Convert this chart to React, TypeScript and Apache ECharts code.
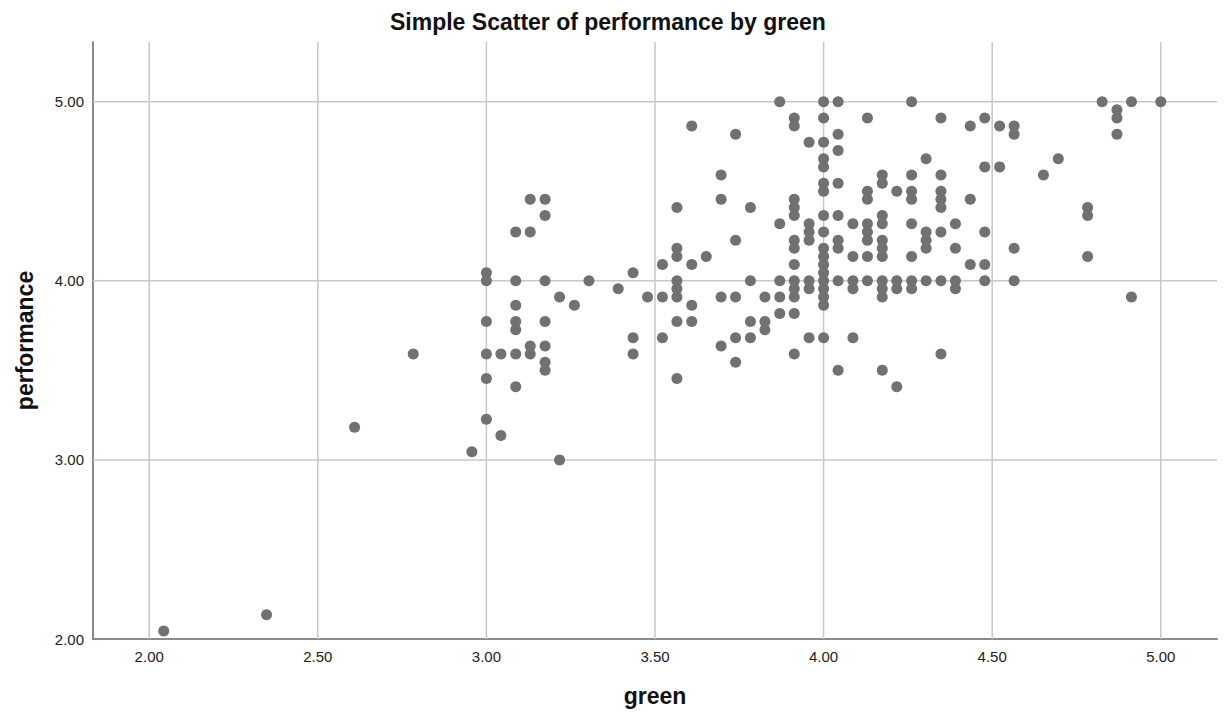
import React, { useEffect, useRef } from "react";
import * as echarts from "echarts";

// green score levels (x) and the performance scores observed at each level (y)
const greenLevels: number[] = [
  2.043, 2.348, 2.609, 2.783, 2.957, 3.0, 3.043, 3.087, 3.13, 3.174, 3.217, 3.261, 3.304,
  3.391, 3.435, 3.478, 3.522, 3.565, 3.609, 3.652, 3.696, 3.739, 3.783, 3.826, 3.87, 3.913,
  3.957, 4.0, 4.043, 4.087, 4.13, 4.174, 4.217, 4.261, 4.304, 4.348, 4.391, 4.435, 4.478,
  4.522, 4.565, 4.652, 4.696, 4.783, 4.826, 4.87, 4.913, 5.0,
];

const performanceByGreen: number[][] = [
  [2.045],
  [2.136],
  [3.182],
  [3.591],
  [3.045],
  [4.045, 4.0, 3.773, 3.591, 3.455, 3.227],
  [3.591, 3.136],
  [4.273, 4.0, 3.864, 3.773, 3.727, 3.591, 3.409],
  [4.455, 4.273, 3.636, 3.591],
  [4.455, 4.364, 4.0, 3.773, 3.636, 3.545, 3.5],
  [3.909, 3.0],
  [3.864],
  [4.0],
  [3.955],
  [4.045, 3.682, 3.591],
  [3.909],
  [4.091, 3.909, 3.682],
  [4.409, 4.182, 4.136, 4.0, 3.955, 3.909, 3.773, 3.455],
  [4.864, 4.091, 3.864, 3.773],
  [4.136],
  [4.591, 4.455, 3.909, 3.636],
  [4.818, 4.227, 3.909, 3.682, 3.545],
  [4.409, 4.0, 3.773, 3.682],
  [3.909, 3.773, 3.727],
  [5.0, 4.318, 4.0, 3.909, 3.818],
  [4.909, 4.864, 4.455, 4.409, 4.364, 4.227, 4.182, 4.091, 4.0, 3.955, 3.909, 3.818, 3.591],
  [4.773, 4.318, 4.273, 4.227, 4.0, 3.955, 3.682],
  [5.0, 4.909, 4.773, 4.682, 4.636, 4.545, 4.5, 4.364, 4.273, 4.182, 4.136, 4.091, 4.045, 4.0, 3.955, 3.909, 3.864, 3.682],
  [5.0, 4.818, 4.727, 4.545, 4.364, 4.227, 4.182, 4.0, 3.5],
  [4.318, 4.136, 4.0, 3.955, 3.682],
  [4.909, 4.5, 4.455, 4.318, 4.273, 4.227, 4.136, 4.0],
  [4.591, 4.545, 4.364, 4.318, 4.227, 4.182, 4.136, 4.0, 3.955, 3.909, 3.5],
  [4.5, 4.0, 3.955, 3.409],
  [5.0, 4.591, 4.5, 4.455, 4.318, 4.136, 4.0, 3.955],
  [4.682, 4.273, 4.227, 4.182, 4.0],
  [4.909, 4.591, 4.5, 4.455, 4.409, 4.273, 4.0, 3.591],
  [4.318, 4.182, 4.0, 3.955],
  [4.864, 4.455, 4.091],
  [4.909, 4.636, 4.273, 4.091, 4.0],
  [4.864, 4.636],
  [4.864, 4.818, 4.182, 4.0],
  [4.591],
  [4.682],
  [4.409, 4.364, 4.136],
  [5.0],
  [4.955, 4.909, 4.818],
  [5.0, 3.909],
  [5.0],
];

const xTicks: number[] = [2.0, 2.5, 3.0, 3.5, 4.0, 4.5, 5.0];
const yTicks: number[] = [2.0, 3.0, 4.0, 5.0];
const xRange: number[] = [1.8333, 5.1667];
const yRange: number[] = [2.0, 5.3333];

const FONT = "'Liberation Sans', Arial, sans-serif";

export default function App() {
  const ref = useRef<HTMLDivElement>(null);

  useEffect(() => {
    if (!ref.current) return;
    const chart = echarts.init(ref.current, null, { renderer: "svg" });

    const points = greenLevels.flatMap((g, i) =>
      performanceByGreen[i].map((p) => [g, p])
    );

    const gridStyle = { color: "#c8c8c8", width: 1.5 };
    const gridSeries: any[] = [
      ...xTicks.map((v) => ({
        type: "line",
        data: [
          [v, yRange[0]],
          [v, yRange[1]],
        ],
        symbol: "none",
        silent: true,
        z: 1,
        lineStyle: gridStyle,
      })),
      ...yTicks
        .filter((v) => v > yRange[0])
        .map((v) => ({
          type: "line",
          data: [
            [xRange[0], v],
            [xRange[1], v],
          ],
          symbol: "none",
          silent: true,
          z: 1,
          lineStyle: gridStyle,
        })),
    ];

    chart.setOption({
      animation: false,
      backgroundColor: "#ffffff",
      title: {
        text: "Simple Scatter of performance by green",
        left: 390,
        top: 10,
        padding: 0,
        textStyle: {
          fontFamily: FONT,
          fontSize: 23,
          fontWeight: "bold",
          color: "#111111",
        },
      },
      grid: { left: 93, top: 42, right: 10, bottom: 73, containLabel: false },
      xAxis: {
        type: "value",
        min: xRange[0],
        max: xRange[1],
        name: "green",
        nameLocation: "middle",
        nameGap: 45,
        nameTextStyle: {
          fontFamily: FONT,
          fontSize: 23,
          fontWeight: "bold",
          color: "#111111",
        },
        axisLine: { show: true, onZero: false, lineStyle: { color: "#8a8a8a", width: 2 } },
        axisTick: { show: false },
        splitLine: { show: false },
        axisLabel: {
          customValues: xTicks,
          formatter: (v: number) => v.toFixed(2),
          fontFamily: FONT,
          fontSize: 15,
          color: "#222222",
          margin: 10,
        },
      },
      yAxis: {
        type: "value",
        min: yRange[0],
        max: yRange[1],
        name: "performance",
        nameLocation: "middle",
        nameRotate: 90,
        nameGap: 57,
        nameTextStyle: {
          fontFamily: FONT,
          fontSize: 23,
          fontWeight: "bold",
          color: "#111111",
        },
        axisLine: { show: true, onZero: false, lineStyle: { color: "#8a8a8a", width: 2 } },
        axisTick: { show: false },
        splitLine: { show: false },
        axisLabel: {
          customValues: yTicks,
          formatter: (v: number) => v.toFixed(2),
          fontFamily: FONT,
          fontSize: 15,
          color: "#222222",
          margin: 9,
        },
      },
      series: [
        ...gridSeries,
        {
          type: "scatter",
          data: points,
          symbol: "circle",
          symbolSize: 11,
          z: 3,
          itemStyle: { color: "#717171", opacity: 1 },
          silent: true,
        },
      ],
    });

    return () => {
      chart.dispose();
    };
  }, []);

  return (
    <div
      ref={ref}
      style={{ position: "fixed", left: 0, top: 0, width: 1227, height: 712 }}
    />
  );
}
